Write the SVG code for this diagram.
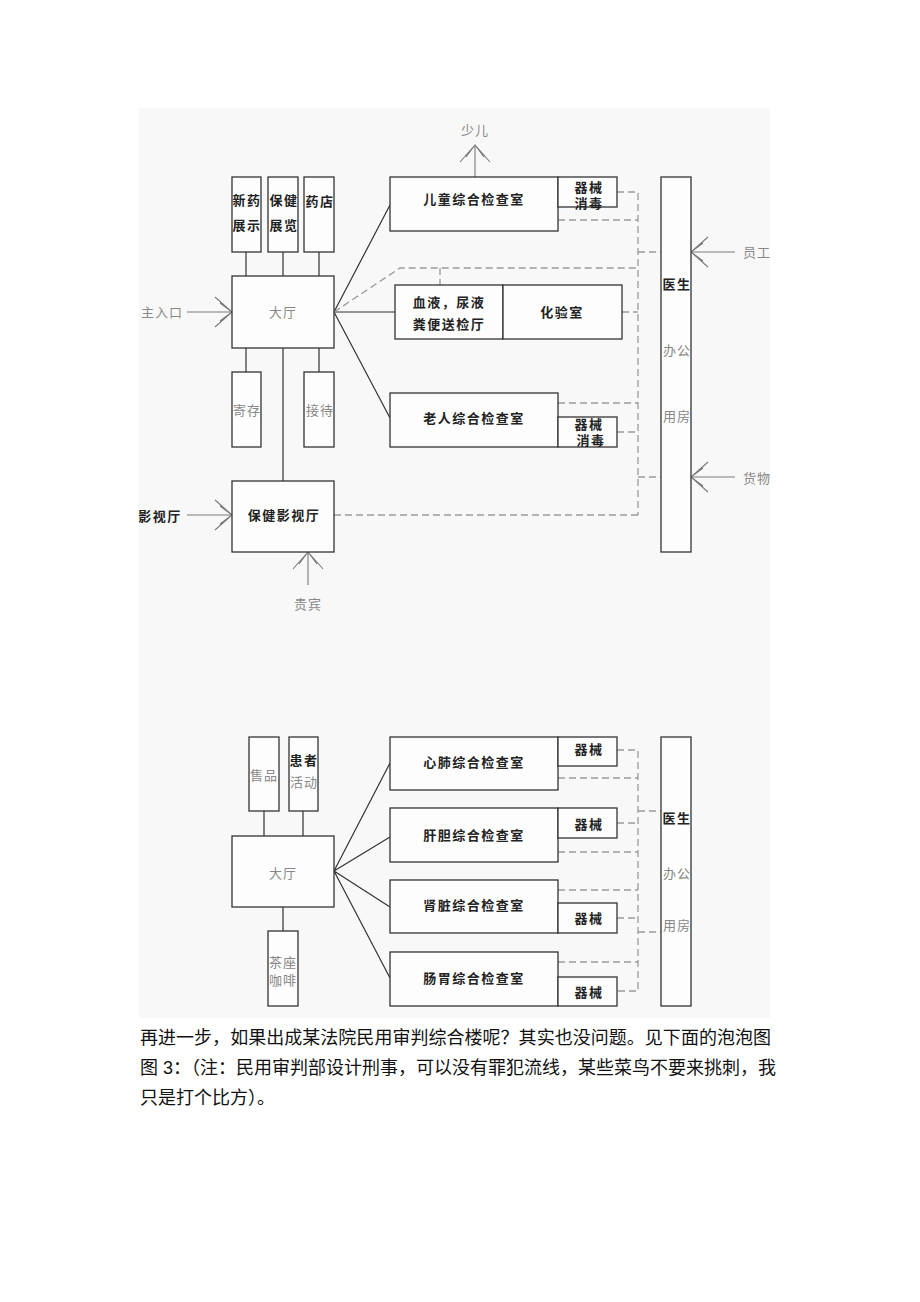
<svg xmlns="http://www.w3.org/2000/svg" width="920" height="1302" viewBox="0 0 920 1302">
<style>
.bx{fill:#fdfdfd;stroke:#333;stroke-width:1.3}
.ln{stroke:#333;stroke-width:1.2;fill:none}
.ds{stroke:#9a9a9a;stroke-width:1.3;fill:none;stroke-dasharray:7,4}
.ar{stroke:#7a7a7a;stroke-width:1.1;fill:none}
.t{font-family:"Liberation Serif","Noto Sans CJK SC",serif;font-size:13px;fill:#222;text-anchor:middle;dominant-baseline:central;letter-spacing:1.5px;font-weight:bold}
.g{font-family:"Liberation Serif","Noto Sans CJK SC",serif;font-size:13px;fill:#888;text-anchor:middle;dominant-baseline:central;letter-spacing:1px}
.p{font-family:"Liberation Sans","Noto Sans CJK SC",sans-serif;font-size:18px;fill:#111}
</style>
<defs>
<path id="chev" d="M-17,-15 L0,0 L-17,15 M-12,-9 L0,0 L-12,9"/>
</defs>
<rect x="139" y="108" width="631" height="910" fill="#f8f8f8"/>

<g id="connectors">
<!-- top diagram solid -->
<path class="ln" d="M246,252V276 M283,252V276 M319,252V276 M246,348V372 M319,348V372 M283,348V481"/>
<path class="ln" d="M334,312L390,205 M334,312H395 M334,312L390,418"/>
<!-- top dashed -->
<path class="ds" d="M617,192H638V515 M558,220H638 M638,252H661 M334,312L400,268H638 M440,268V285 M622,312H638 M558,403H638 M617,432H638 M638,477H661 M334,515H638"/>
<!-- arrows top -->
<path class="ar" d="M187,312H232 M187,515H232 M308,585V552 M475,177V145 M735,252H691 M735,477H691"/>
<use href="#chev" class="ar" transform="translate(232,312)"/>
<use href="#chev" class="ar" transform="translate(232,515)"/>
<use href="#chev" class="ar" transform="translate(308,552) rotate(-90)"/>
<use href="#chev" class="ar" transform="translate(475,145) rotate(-90)"/>
<use href="#chev" class="ar" transform="translate(691,252) rotate(180)"/>
<use href="#chev" class="ar" transform="translate(691,477) rotate(180)"/>
<!-- bottom diagram solid -->
<path class="ln" d="M264,811V836 M303,811V836 M283,907V931"/>
<path class="ln" d="M334,871L390,763 M334,871L390,837 M334,871L390,907 M334,871L390,978"/>
<!-- bottom dashed -->
<path class="ds" d="M617,750H638V991H617 M558,778H638 M638,811H661 M617,823H638 M558,852H638 M558,890H638 M617,918H638 M638,932H661 M558,962H638"/>
</g>

<!-- top diagram nodes -->
<g id="n-xinyao"><rect class="bx" x="232" y="177" width="29" height="75"/><text class="t" x="247" y="200">新药</text><text class="t" x="247" y="225">展示</text></g>
<g id="n-baojian"><rect class="bx" x="268" y="177" width="30" height="75"/><text class="t" x="284" y="200">保健</text><text class="t" x="284" y="225">展览</text></g>
<g id="n-yaodian"><rect class="bx" x="304" y="177" width="30" height="75"/><text class="t" x="320" y="201">药店</text></g>
<g id="n-dating"><rect class="bx" x="232" y="276" width="102" height="72"/><text class="g" x="283" y="312">大厅</text></g>
<g id="n-jicun"><rect class="bx" x="232" y="372" width="29" height="75"/><text class="g" x="247" y="410">寄存</text></g>
<g id="n-jiedai"><rect class="bx" x="304" y="372" width="30" height="75"/><text class="g" x="320" y="410">接待</text></g>
<g id="n-yingshi"><rect class="bx" x="232" y="481" width="102" height="71"/><text class="t" x="284" y="515">保健影视厅</text></g>
<g id="n-ertong"><rect class="bx" x="390" y="177" width="168" height="54"/><text class="t" x="474" y="199">儿童综合检查室</text></g>
<g id="n-qixie1"><rect class="bx" x="558" y="177" width="59" height="30"/><text class="t" x="589" y="187">器械</text><text class="t" x="589" y="203">消毒</text></g>
<g id="n-huayan"><rect class="bx" x="395" y="285" width="108" height="54"/><rect class="bx" x="503" y="285" width="119" height="54"/><text class="t" x="449" y="302">血液，尿液</text><text class="t" x="449" y="324">粪便送检厅</text><text class="t" x="562" y="312">化验室</text></g>
<g id="n-laoren"><rect class="bx" x="390" y="393" width="168" height="54"/><text class="t" x="474" y="418">老人综合检查室</text></g>
<g id="n-qixie2"><rect class="bx" x="558" y="417" width="59" height="30"/><text class="t" x="589" y="424">器械</text><text class="t" x="591" y="440">消毒</text></g>
<g id="n-yisheng1"><rect class="bx" x="661" y="177" width="30" height="375"/><text class="t" x="677" y="284">医生</text><text class="g" x="677" y="350">办公</text><text class="g" x="677" y="416">用房</text></g>
<g id="labels-top">
<text class="g" x="162" y="312">主入口</text>
<text class="t" x="160" y="516">影视厅</text>
<text class="g" x="308" y="604">贵宾</text>
<text class="g" x="475" y="130">少儿</text>
<text class="g" x="757" y="252">员工</text>
<text class="g" x="757" y="478">货物</text>
</g>

<!-- bottom diagram nodes -->
<g id="n-shoupin"><rect class="bx" x="249" y="737" width="30" height="74"/><text class="g" x="264" y="775">售品</text></g>
<g id="n-huanzhe"><rect class="bx" x="289" y="737" width="29" height="74"/><text class="t" x="304" y="760">患者</text><text class="g" x="304" y="782">活动</text></g>
<g id="n-dating2"><rect class="bx" x="232" y="836" width="102" height="71"/><text class="g" x="283" y="873">大厅</text></g>
<g id="n-chazuo"><rect class="bx" x="268" y="931" width="30" height="75"/><text class="g" x="283" y="962">茶座</text><text class="g" x="283" y="980">咖啡</text></g>
<g id="n-xinfei"><rect class="bx" x="390" y="737" width="168" height="53"/><text class="t" x="474" y="762">心肺综合检查室</text></g>
<g id="n-qx3"><rect class="bx" x="558" y="737" width="59" height="29"/><text class="t" x="589" y="749">器械</text></g>
<g id="n-gandan"><rect class="bx" x="390" y="808" width="168" height="54"/><text class="t" x="474" y="835">肝胆综合检查室</text></g>
<g id="n-qx4"><rect class="bx" x="558" y="808" width="59" height="30"/><text class="t" x="589" y="824">器械</text></g>
<g id="n-shenzang"><rect class="bx" x="390" y="880" width="168" height="53"/><text class="t" x="474" y="905">肾脏综合检查室</text></g>
<g id="n-qx5"><rect class="bx" x="558" y="903" width="59" height="30"/><text class="t" x="589" y="918">器械</text></g>
<g id="n-changwei"><rect class="bx" x="390" y="952" width="168" height="54"/><text class="t" x="474" y="978">肠胃综合检查室</text></g>
<g id="n-qx6"><rect class="bx" x="558" y="977" width="59" height="29"/><text class="t" x="589" y="992">器械</text></g>
<g id="n-yisheng2"><rect class="bx" x="661" y="737" width="30" height="269"/><text class="t" x="677" y="818">医生</text><text class="g" x="677" y="873">办公</text><text class="g" x="677" y="925">用房</text></g>

<g id="paragraph">
<text class="p" x="140" y="1044" textLength="631" lengthAdjust="spacing">再进一步，如果出成某法院民用审判综合楼呢？其实也没问题。见下面的泡泡图</text>
<text class="p" x="140" y="1074" textLength="636" lengthAdjust="spacing">图 3：（注：民用审判部设计刑事，可以没有罪犯流线，某些菜鸟不要来挑刺，我</text>
<text class="p" x="140" y="1104">只是打个比方）。</text>
</g>
</svg>
